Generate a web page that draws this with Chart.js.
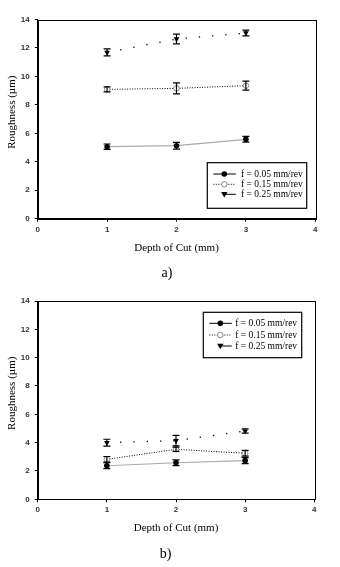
<!DOCTYPE html>
<html><head><meta charset="utf-8">
<script src="https://cdn.jsdelivr.net/npm/chart.js@4"></script>
<style>
html,body{margin:0;padding:0;background:#fff;width:340px;height:567px;overflow:hidden}
.c{position:absolute;left:0;width:340px}
</style></head><body>
<div class="c" style="top:0;height:282px"><canvas id="ca"></canvas></div>
<div class="c" style="top:281px;height:286px"><canvas id="cb"></canvas></div>
<script>
// ---- data ----
const depths = [1, 2, 3];
const seriesLabels = ['f = 0.05 mm/rev', 'f = 0.15 mm/rev', 'f = 0.25 mm/rev'];
const xTicks = [0, 1, 2, 3, 4];
const yTicks = [0, 2, 4, 6, 8, 10, 12, 14];
const xTitle = 'Depth of Cut (mm)';
const yTitle = 'Roughness (\u00b5m)';

const a_f005 = [5.06, 5.13, 5.58];
const a_f005_err = [0.19, 0.24, 0.20];
const a_f015 = [9.09, 9.16, 9.35];
const a_f015_err = [0.17, 0.39, 0.32];
const a_f025 = [11.69, 12.63, 13.05];
const a_f025_err = [0.25, 0.34, 0.20];

const b_f005 = [2.37, 2.58, 2.73];
const b_f005_err = [0.21, 0.20, 0.21];
const b_f015 = [2.82, 3.53, 3.25];
const b_f015_err = [0.20, 0.15, 0.20];
const b_f025 = [4.00, 4.14, 4.82];
const b_f025_err = [0.24, 0.37, 0.15];

// ---- plugins ----
const errorBarPlugin = {
  id: 'errorBars',
  afterDatasetsDraw(chart) {
    const ctx = chart.ctx, ys = chart.scales.y;
    ctx.save();
    ctx.strokeStyle = '#000';
    ctx.lineWidth = 1.2;
    chart.data.datasets.forEach((ds, di) => {
      const meta = chart.getDatasetMeta(di);
      meta.data.forEach((pt, i) => {
        const e = ds.errorBars[i], v = ds.data[i].y;
        const x = pt.x, y1 = ys.getPixelForValue(v + e), y2 = ys.getPixelForValue(v - e);
        ctx.beginPath();
        ctx.moveTo(x, y1); ctx.lineTo(x, y2);
        ctx.moveTo(x - 3.5, y1); ctx.lineTo(x + 3.5, y1);
        ctx.moveTo(x - 3.5, y2); ctx.lineTo(x + 3.5, y2);
        ctx.stroke();
      });
    });
    ctx.restore();
  }
};

function drawMarker(ctx, kind, x, y) {
  ctx.save();
  if (kind === 'dot') {
    ctx.fillStyle = '#000';
    ctx.beginPath(); ctx.arc(x, y, 2.8, 0, Math.PI * 2); ctx.fill();
  } else if (kind === 'open') {
    ctx.fillStyle = '#fff'; ctx.strokeStyle = '#888'; ctx.lineWidth = 1;
    ctx.beginPath(); ctx.arc(x, y, 2.8, 0, Math.PI * 2); ctx.fill(); ctx.stroke();
  } else {
    ctx.fillStyle = '#000';
    ctx.beginPath(); ctx.moveTo(x - 3.2, y - 2.2); ctx.lineTo(x + 3.2, y - 2.2); ctx.lineTo(x, y + 3.2); ctx.closePath(); ctx.fill();
  }
  ctx.restore();
}

const framePlugin = {
  id: 'frameLegend',
  afterDraw(chart, args, opts) {
    const ctx = chart.ctx, a = chart.chartArea;
    ctx.save();
    ctx.strokeStyle = '#000'; ctx.lineWidth = 1;
    ctx.strokeRect(Math.round(a.left) + 0.5, Math.round(a.top) + 0.5, Math.round(a.right - a.left), Math.round(a.bottom - a.top));
    // caption
    ctx.fillStyle = '#000';
    ctx.font = '14px "Liberation Serif", serif';
    ctx.textAlign = 'center'; ctx.textBaseline = 'middle';
    ctx.fillText(opts.caption.text, opts.caption.x, opts.caption.y);
    ctx.textAlign = 'left';
    // legend box
    const L = opts.box;
    ctx.fillStyle = '#fff';
    ctx.fillRect(L.left, L.top, L.width, L.height);
    ctx.lineWidth = 1.2;
    ctx.strokeRect(L.left, L.top, L.width, L.height);
    ctx.font = '9.5px "Liberation Serif", serif';
    ctx.fillStyle = '#000';
    const kinds = ['dot', 'open', 'tri'];
    L.rows.forEach((ry, i) => {
      const y = L.top + ry;
      const x0 = L.left + 6, x1 = L.left + 28.5, xm = L.left + 17;
      ctx.save();
      ctx.strokeStyle = '#000'; ctx.lineWidth = 1;
      if (i === 1) ctx.setLineDash([1, 1.5]);
      ctx.beginPath();
      ctx.moveTo(i === 2 ? xm : x0, y); ctx.lineTo(x1, y); ctx.stroke();
      ctx.restore();
      drawMarker(ctx, kinds[i], xm, y);
      ctx.fillText(seriesLabels[i], L.left + L.textX, y + 0.5);
    });
    ctx.restore();
  }
};

function makeDatasets(v1, e1, v2, e2, v3, e3) {
  const pts = v => depths.map((d, i) => ({ x: d, y: v[i] }));
  return [
    { label: seriesLabels[0], data: pts(v1), errorBars: e1, borderColor: '#aaa', borderWidth: 1.2,
      pointStyle: 'circle', pointRadius: 2.8, pointBackgroundColor: '#000', pointBorderColor: '#000', pointBorderWidth: 0 },
    { label: seriesLabels[1], data: pts(v2), errorBars: e2, borderColor: '#000', borderWidth: 1, borderDash: [1, 1.5],
      pointStyle: 'circle', pointRadius: 2.8, pointBackgroundColor: '#fff', pointBorderColor: '#888', pointBorderWidth: 1 },
    { label: seriesLabels[2], data: pts(v3), errorBars: e3, borderColor: '#000', borderWidth: 1.3, borderDash: [1.3, 12],
      pointStyle: 'triangle', pointRotation: 180, pointRadius: 3.3, pointBackgroundColor: '#000', pointBorderColor: '#000', pointBorderWidth: 0 }
  ];
}

const tickFont = { family: '"Liberation Sans", Arial, sans-serif', size: 8, weight: 'bold' };

function makeChart(id, datasets, cfg) {
  return new Chart(document.getElementById(id), {
    type: 'line',
    data: { datasets },
    options: {
      responsive: true, maintainAspectRatio: false, animation: false,
      layout: { padding: { left: 0, right: cfg.padRight, top: cfg.padTop, bottom: cfg.padBottom } },
      plugins: {
        legend: { display: false }, tooltip: { enabled: false }, title: { display: false },
        frameLegend: { box: cfg.legend, caption: cfg.caption }
      },
      scales: {
        x: {
          type: 'linear', min: 0, max: 4,
          afterBuildTicks: s => { s.ticks = xTicks.map(v => ({ value: v })); },
          afterFit: s => { s.height = cfg.xHeight; },
          grid: { drawOnChartArea: false, drawTicks: true, tickLength: 3, color: '#000' },
          border: { display: true, color: '#000', width: 1 },
          ticks: { color: '#333', padding: 3, font: tickFont },
          title: { display: true, text: xTitle, color: '#000', padding: { top: 0, bottom: 0 },
                   font: { family: '"Liberation Serif", serif', size: 11, lineHeight: 1.2 } }
        },
        y: {
          min: 0, max: 14,
          afterBuildTicks: s => { s.ticks = yTicks.map(v => ({ value: v })); },
          afterFit: s => { s.width = cfg.yWidth; },
          grid: { drawOnChartArea: false, drawTicks: true, tickLength: 3, color: '#000' },
          border: { display: true, color: '#000', width: 1 },
          ticks: { color: '#333', padding: 5, font: tickFont },
          title: { display: true, text: '     ' + yTitle, color: '#000', padding: { top: 6, bottom: 0 },
                   font: { family: '"Liberation Serif", serif', size: 11, lineHeight: 1.2 } }
        }
      }
    },
    plugins: [errorBarPlugin, framePlugin]
  });
}

makeChart('ca', makeDatasets(a_f005, a_f005_err, a_f015, a_f015_err, a_f025, a_f025_err), {
  padRight: 24.7, padTop: 19.5, padBottom: 27.7, xHeight: 35.6, yWidth: 37.7,
  caption: { text: 'a)', x: 167, y: 273 },
  legend: { left: 207.3, top: 162.7, width: 99.4, height: 45.6, rows: [11.3, 21.6, 31.6], textX: 33.7 }
});
makeChart('cb', makeDatasets(b_f005, b_f005_err, b_f015, b_f015_err, b_f025, b_f025_err), {
  padRight: 25.7, padTop: 20, padBottom: 32.4, xHeight: 35.3, yWidth: 37.7,
  caption: { text: 'b)', x: 165.5, y: 273.7 },
  legend: { left: 203.3, top: 31.3, width: 98.4, height: 45.4, rows: [11, 22.7, 33.7], textX: 32 }
});
</script>
</body></html>
